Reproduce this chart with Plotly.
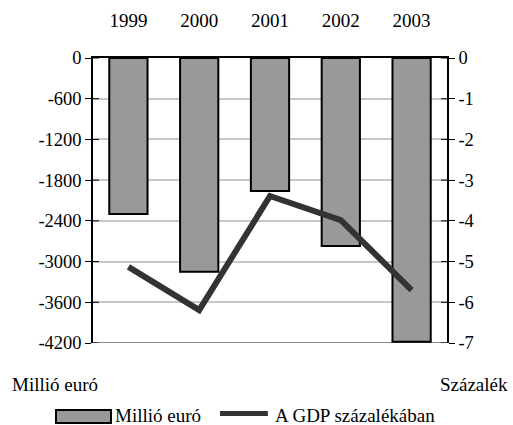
import plotly.graph_objects as go

years = ["1999", "2000", "2001", "2002", "2003"]
million_eur = [-2300, -3150, -1960, -2770, -4180]
gdp_pct = [-5.13, -6.19, -3.39, -3.98, -5.70]

left_ticks = [0, -600, -1200, -1800, -2400, -3000, -3600, -4200]
right_ticks = [0, -1, -2, -3, -4, -5, -6, -7]

bar_name = "Millió euró"
line_name = "A GDP százalékában"
left_unit = "Millió euró"
right_unit = "Százalék"

BAR_FILL = "#999999"
LINE_COLOR = "#333333"
font = dict(family="'Liberation Serif', 'Times New Roman', serif", size=19, color="#000000")
tick_font = dict(font, size=18.5)

fig = go.Figure()
fig.add_trace(go.Bar(
    x=years, y=million_eur, name=bar_name,
    marker=dict(color=BAR_FILL, line=dict(color="#000000", width=2)),
    yaxis="y", showlegend=False,
))
fig.add_trace(go.Scatter(
    x=years, y=gdp_pct, name=line_name, mode="lines",
    line=dict(color=LINE_COLOR, width=6),
    yaxis="y2", showlegend=False,
))

shapes = [
    dict(type="line", xref="paper", yref="y", x0=0, x1=1,
         y0=-4200, y1=-4200, line=dict(color="#888888", width=2), layer="below"),
]
# inner halves of the tick marks so they cross both value axes
for v in left_ticks:
    shapes.append(dict(type="line", xref="paper", yref="y", x0=0, x1=0.017,
                       y0=v, y1=v, line=dict(color="#000000", width=1)))
for v in right_ticks:
    shapes.append(dict(type="line", xref="paper", yref="y2", x0=0.983, x1=1,
                       y0=v, y1=v, line=dict(color="#000000", width=1)))

# legend below the plot: wide swatches followed by labels
shapes += [
    dict(type="rect", xref="paper", yref="paper", x0=-0.1045, x1=0.0508,
         y0=-0.2807, y1=-0.2351, fillcolor=BAR_FILL,
         line=dict(color="#000000", width=2)),
    dict(type="line", xref="paper", yref="paper", x0=0.3588, x1=0.494,
         y0=-0.2474, y1=-0.2474, line=dict(color=LINE_COLOR, width=5)),
]

annotations = [
    dict(text=left_unit, xref="paper", yref="paper", x=-0.2345, y=-0.145,
         xanchor="left", yanchor="middle", showarrow=False, font=font),
    dict(text=right_unit, xref="paper", yref="paper", x=1.178, y=-0.145,
         xanchor="right", yanchor="middle", showarrow=False, font=font),
    dict(text=bar_name, xref="paper", yref="paper", x=0.0565, y=-0.256,
         xanchor="left", yanchor="middle", showarrow=False, font=font),
    dict(text=line_name, xref="paper", yref="paper", x=0.508, y=-0.256,
         xanchor="left", yanchor="middle", showarrow=False, font=font),
]

fig.update_layout(
    width=513, height=425,
    margin=dict(l=93, r=66, t=58, b=82, autoexpand=False),
    paper_bgcolor="white", plot_bgcolor="white",
    font=font,
    bargap=0.46,
    showlegend=False,
    xaxis=dict(side="top", showline=True, linecolor="#000000", linewidth=1.5,
               ticks="", showgrid=False, tickfont=font, ticklabelstandoff=22),
    yaxis=dict(range=[-4200, 0], tickvals=left_ticks,
               ticktext=[str(v) for v in left_ticks],
               showgrid=True, gridcolor="#c8c8c8", gridwidth=1.5,
               showline=True, linecolor="#000000", linewidth=1.5,
               ticks="outside", ticklen=6, tickcolor="#000000",
               zeroline=False, tickfont=tick_font),
    yaxis2=dict(range=[-7, 0], tickvals=right_ticks,
                ticktext=[str(v) for v in right_ticks],
                overlaying="y", side="right", showgrid=False,
                showline=True, linecolor="#000000", linewidth=1.5,
                ticks="outside", ticklen=6, tickcolor="#000000",
                zeroline=False, tickfont=tick_font),
    shapes=shapes,
    annotations=annotations,
)

fig.write_html("out.html")
